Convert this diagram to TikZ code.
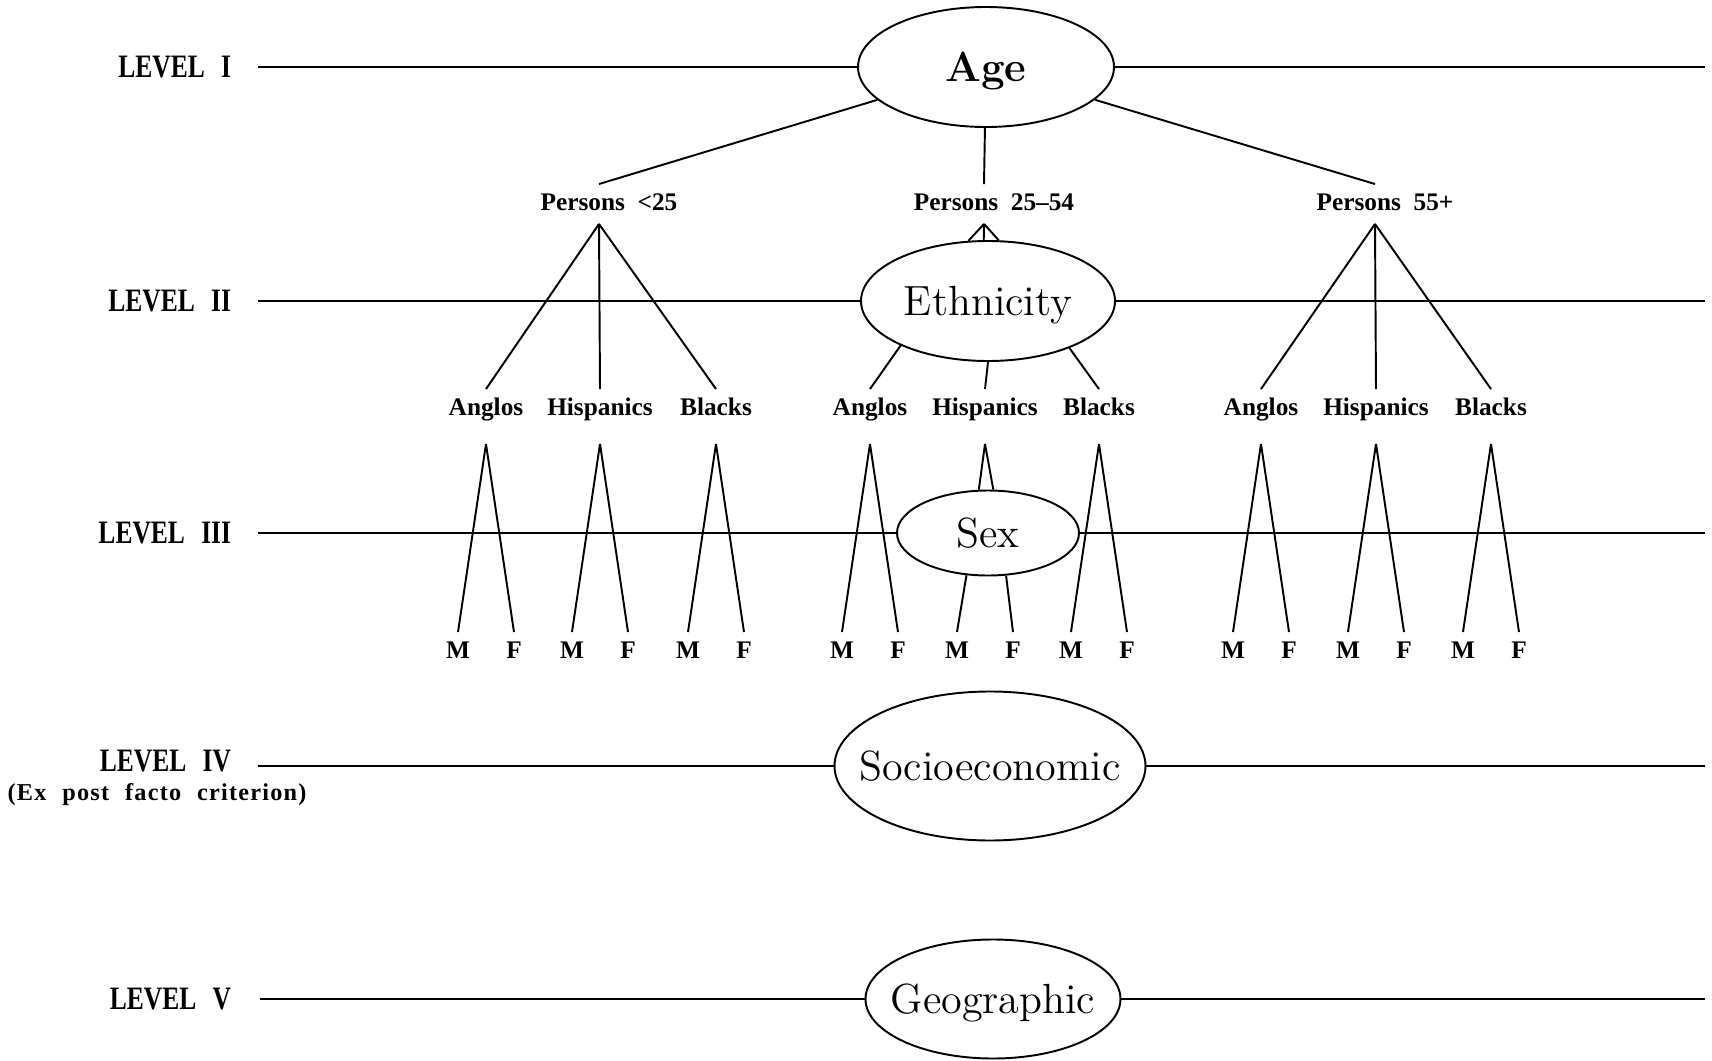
\documentclass[tikz,border=0pt]{standalone}
\usepackage{fontspec}
\usetikzlibrary{shapes.geometric}
\newfontfamily\lvlfont{Liberation Serif}[FakeStretch=0.78]
\newfontfamily\lblfont{Liberation Serif}
\newfontfamily\critfont{Liberation Serif}[LetterSpace=5]

\begin{document}
\begin{tikzpicture}[x=0.1mm,y=-0.1mm,line width=0.55pt,font=\fontsize{12}{14}\selectfont,
  every label/.append style={text depth=0pt},
  factor node/.style={ellipse,draw,inner sep=0pt},
  level node/.style={anchor=east,inner sep=0pt,font=\lvlfont\bfseries\fontsize{9.3}{11}\selectfont},
  small node/.style={inner sep=0.8mm,text height=1.7mm,text depth=0.5mm,font=\lblfont\bfseries\fontsize{7.2}{8}\selectfont}]

  \useasboundingbox (0,0) rectangle (1712,1061);

  % the five factors
  \node[factor node,minimum width=25.6mm,minimum height=12mm,label={center:\bfseries Age}] (age) at (986,67) {};
  \node[factor node,minimum width=25.4mm,minimum height=12mm,label=center:Ethnicity] (eth) at (988,301) {};
  \node[factor node,minimum width=18.2mm,minimum height=8.5mm,label=center:Sex] (sex) at (988,533) {};
  \node[factor node,minimum width=31.1mm,minimum height=14.9mm,label=center:Socioeconomic] (soc) at (990,766) {};
  \node[factor node,minimum width=25.5mm,minimum height=11.9mm,label=center:Geographic] (geo) at (993,999) {};

  % level names
  \node[level node] (lv1) at (232,67) {LEVEL\enspace I};
  \node[level node] (lv2) at (232,301) {LEVEL\enspace II};
  \node[level node] (lv3) at (232,533) {LEVEL\enspace III};
  \node[level node] (lv4) at (232,761) {LEVEL\enspace IV};
  \node[level node] (lv5) at (232,999) {LEVEL\enspace V};
  \node[small node,font=\critfont\bfseries\fontsize{6.9}{8}\selectfont] (crit) at (157,794)
    {(Ex\hspace{1.6mm}post\hspace{1.6mm}facto\hspace{1.6mm}criterion)};

  \coordinate (w1) at (258,67);   \coordinate (e1) at (1705,67);
  \coordinate (w2) at (258,301);  \coordinate (e2) at (1705,301);
  \coordinate (w3) at (258,533);  \coordinate (e3) at (1705,533);
  \coordinate (w4) at (258,766);  \coordinate (e4) at (1705,766);
  \coordinate (w5) at (260,999);  \coordinate (e5) at (1705,999);

  \path (w1) edge (age) (age) edge (e1)
        (w2) edge (eth) (eth) edge (e2)
        (w3) edge (sex) (sex) edge (e3)
        (w4) edge (soc) (soc) edge (e4)
        (w5) edge (geo) (geo) edge (e5);

  % age groups
  \node[small node] (p1) at (609,204) {Persons\ \ {<}25};
  \node[small node] (p2) at (994,204) {Persons\ \ 25\textendash54};
  \node[small node] (p3) at (1385,204) {Persons\ \ 55+};

  \path (age) edge ([xshift=-1mm]p1.north)
        (age) edge ([xshift=-1mm]p2.north)
        (age) edge ([xshift=-1mm]p3.north);

  % ethnic groups
  \node[small node] (a1) at (486,409) {Anglos};
  \node[small node] (h1) at (600,409) {Hispanics};
  \node[small node] (b1) at (716,409) {Blacks};
  \node[small node] (a2) at (870,409) {Anglos};
  \node[small node] (h2) at (985,409) {Hispanics};
  \node[small node] (b2) at (1099,409) {Blacks};
  \node[small node] (a3) at (1261,409) {Anglos};
  \node[small node] (h3) at (1376,409) {Hispanics};
  \node[small node] (b3) at (1491,409) {Blacks};

  \path ([xshift=-1mm]p1.south) edge (a1.north) edge (h1.north) edge (b1.north)
        ([xshift=-1mm]p3.south) edge (a3.north) edge (h3.north) edge (b3.north)
        ([xshift=-1mm]p2.south) edge (eth.108) edge (eth.94) edge (eth.80)
        (eth.207) edge (a2.north)
        (eth.south) edge (h2.north)
        (eth.330) edge (b2.north);

  % sexes
  \foreach \e in {a1,h1,b1,a2,h2,b2,a3,h3,b3} {
    \node[small node] (m\e) at ([xshift=-2.8mm,yshift=-24.3mm]\e) {M};
    \node[small node] (f\e) at ([xshift=2.8mm,yshift=-24.3mm]\e) {F};
  }
  \foreach \e in {a1,h1,b1,a2,b2,a3,h3,b3}
    \path ([yshift=-1.5mm]\e.south) edge (m\e.north) edge (f\e.north);

  \path ([yshift=-1.5mm]h2.south) edge (sex.102) edge (sex.83)
        (sex.243) edge (mh2.north)
        (sex.293) edge (fh2.north);
\end{tikzpicture}
\end{document}
